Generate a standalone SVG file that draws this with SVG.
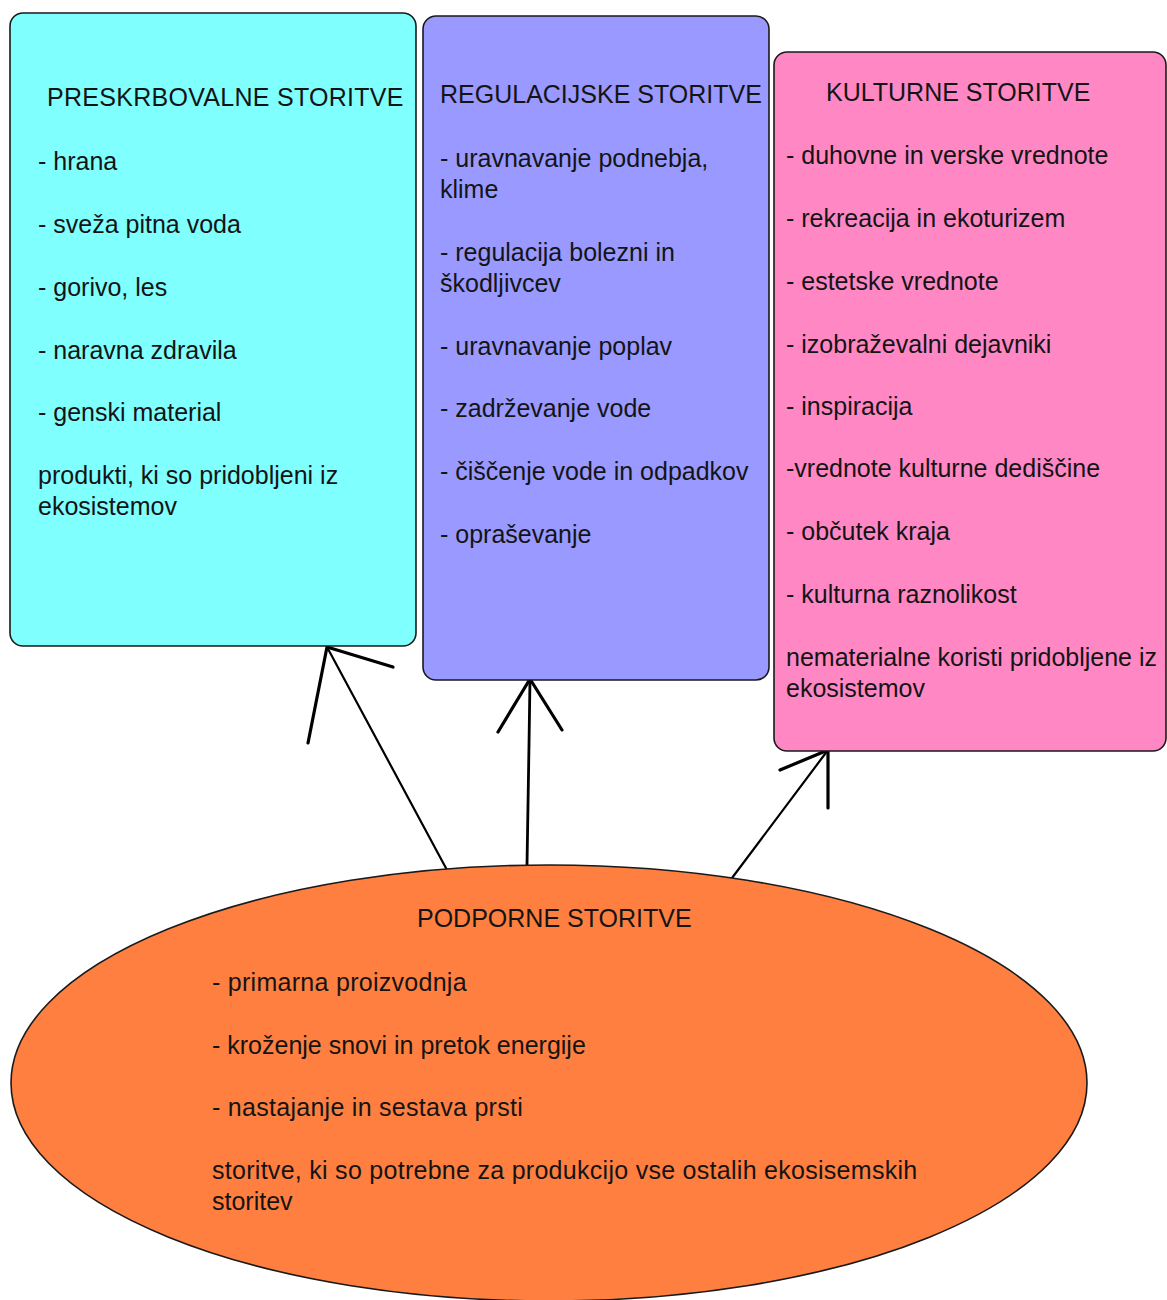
<svg xmlns="http://www.w3.org/2000/svg" width="1167" height="1300" viewBox="0 0 1167 1300">
<style>
.box{stroke:#1a1a1a;stroke-width:1.6}
.t{font-family:"Liberation Sans",Arial,sans-serif;font-size:25px;fill:#141414}
.w{letter-spacing:0.28px}
.c{fill:none;stroke:#000;stroke-linecap:round;stroke-linejoin:round}
</style>
<rect x="0" y="0" width="1167" height="1300" fill="#ffffff"/>
<g id="connectors">
<polyline class="c" stroke-width="2.2" points="447,870 327,647"/>
<polyline class="c" stroke-width="3.2" points="308,743 327,647 393,667"/>
<polyline class="c" stroke-width="2.8" points="527,865 528,805 529,745 530,679"/>
<polyline class="c" stroke-width="3.2" points="498,732 530,679 562,730"/>
<polyline class="c" stroke-width="2.2" points="732,878 828,750"/>
<polyline class="c" stroke-width="3.2" points="780,770 828,750 828,808"/>
</g>
<g id="node-preskrbovalne">
<rect class="box" x="10" y="13" width="406" height="633" rx="13" fill="#80FFFF"/>
<text class="t w" x="47" y="106">PRESKRBOVALNE STORITVE</text>
<text class="t" x="38" y="170">- hrana</text>
<text class="t" x="38" y="233">- sveža pitna voda</text>
<text class="t" x="38" y="296">- gorivo, les</text>
<text class="t" x="38" y="359">- naravna zdravila</text>
<text class="t" x="38" y="421">- genski material</text>
<text class="t" x="38" y="484">produkti, ki so pridobljeni iz</text>
<text class="t" x="38" y="515">ekosistemov</text>
</g>
<g id="node-regulacijske">
<rect class="box" x="423" y="16" width="346" height="664" rx="13" fill="#9999FF"/>
<text class="t" x="440" y="103">REGULACIJSKE STORITVE</text>
<text class="t" x="440" y="167">- uravnavanje podnebja,</text>
<text class="t" x="440" y="198">klime</text>
<text class="t" x="440" y="261">- regulacija bolezni in</text>
<text class="t" x="440" y="292">škodljivcev</text>
<text class="t" x="440" y="355">- uravnavanje poplav</text>
<text class="t" x="440" y="417">- zadrževanje vode</text>
<text class="t" x="440" y="480">- čiščenje vode in odpadkov</text>
<text class="t" x="440" y="543">- opraševanje</text>
</g>
<g id="node-kulturne">
<rect class="box" x="774" y="52" width="392" height="699" rx="13" fill="#FF88C4"/>
<text class="t" x="826" y="101">KULTURNE STORITVE</text>
<text class="t" x="786" y="164">- duhovne in verske vrednote</text>
<text class="t" x="786" y="227">- rekreacija in ekoturizem</text>
<text class="t" x="786" y="290">- estetske vrednote</text>
<text class="t" x="786" y="353">- izobraževalni dejavniki</text>
<text class="t" x="786" y="415">- inspiracija</text>
<text class="t" x="786" y="477">-vrednote kulturne dediščine</text>
<text class="t" x="786" y="540">- občutek kraja</text>
<text class="t" x="786" y="603">- kulturna raznolikost</text>
<text class="t" x="786" y="666">nematerialne koristi pridobljene iz</text>
<text class="t" x="786" y="697">ekosistemov</text>
</g>
<g id="node-podporne">
<ellipse class="box" cx="549" cy="1083" rx="538" ry="218" fill="#FF7F40"/>
<text class="t" x="417" y="927">PODPORNE STORITVE</text>
<text class="t w" x="212" y="991">- primarna proizvodnja</text>
<text class="t" x="212" y="1054">- kroženje snovi in pretok energije</text>
<text class="t w" x="212" y="1116">- nastajanje in sestava prsti</text>
<text class="t w" x="212" y="1179">storitve, ki so potrebne za produkcijo vse ostalih ekosisemskih</text>
<text class="t" x="212" y="1210">storitev</text>
</g>
</svg>
